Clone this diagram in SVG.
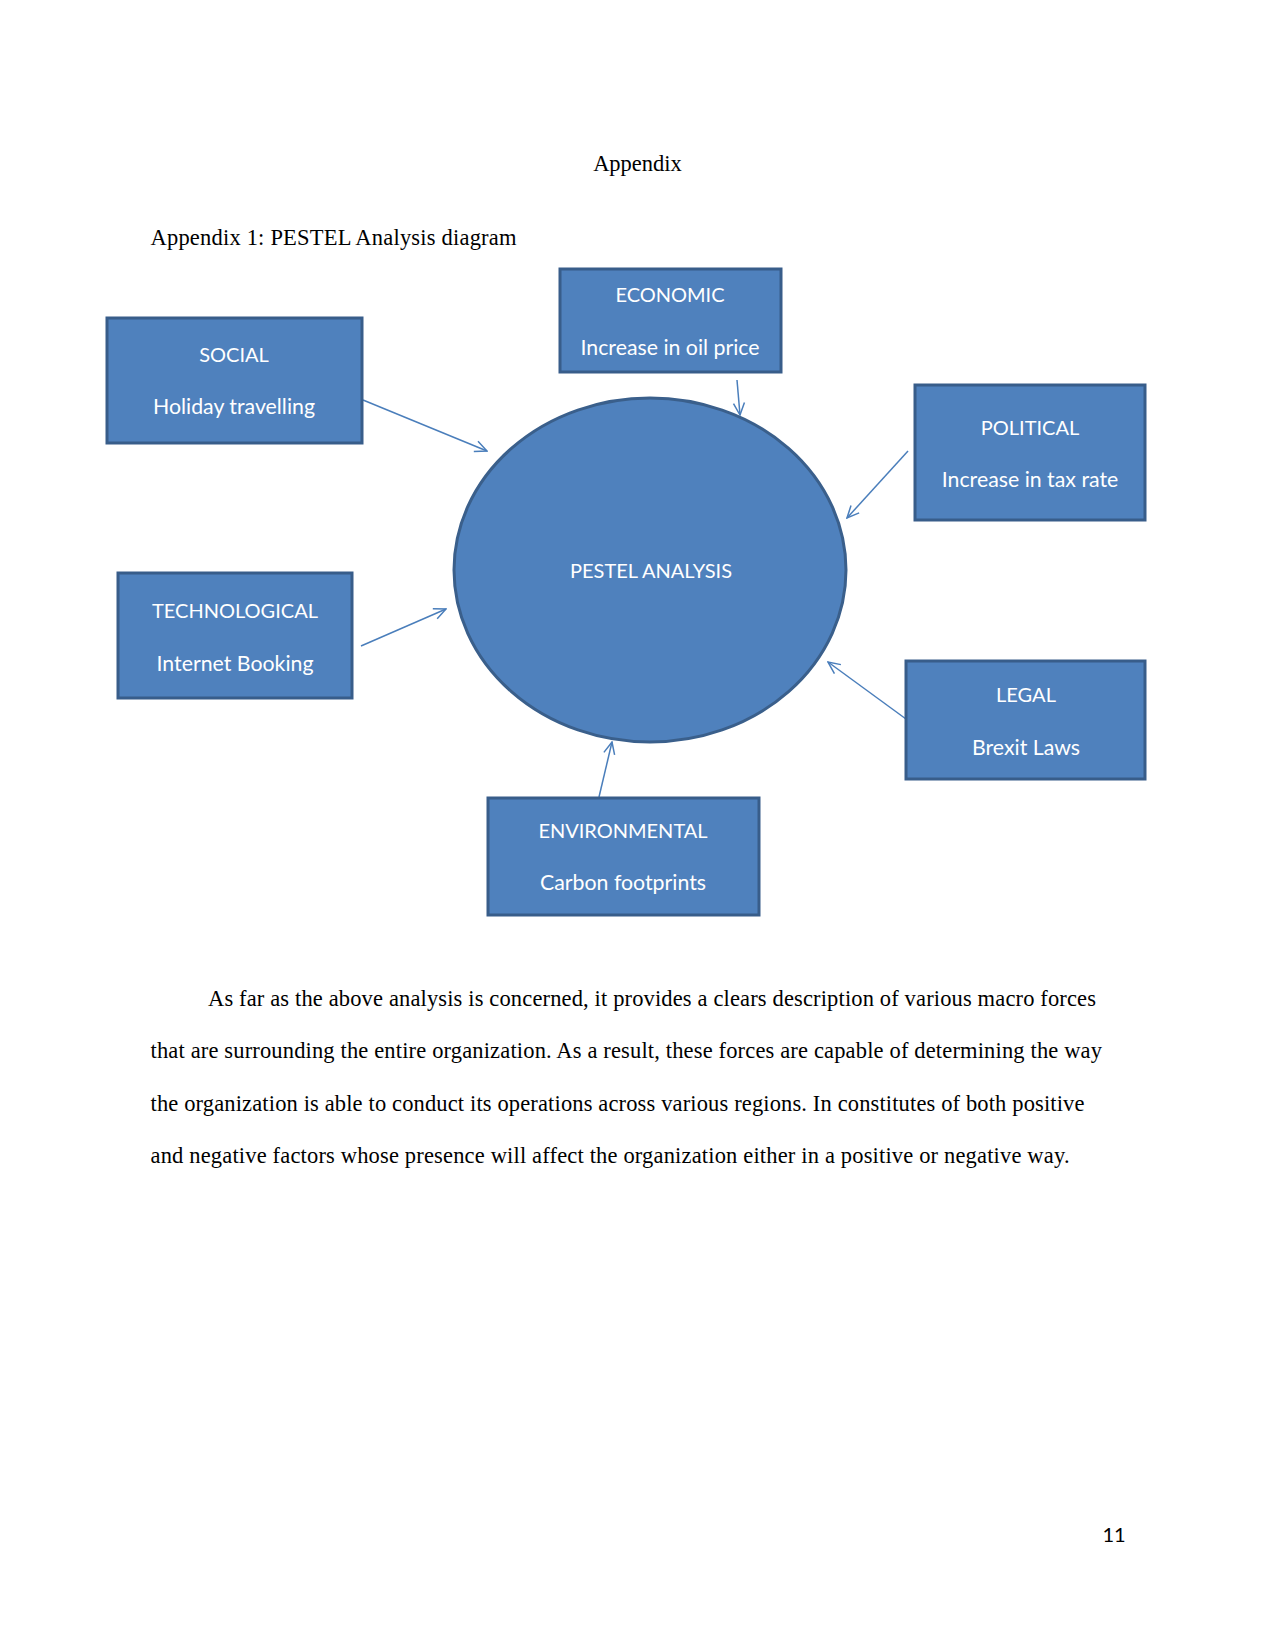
<svg xmlns="http://www.w3.org/2000/svg" width="1275" height="1651" viewBox="0 0 1275 1651">
<style>
.box{fill:#4f81bd;stroke:#385d8a;stroke-width:3}
.lbl{font-family:Lato,"Liberation Sans",sans-serif;font-size:20px;fill:#ffffff;text-anchor:middle}
.sub{font-size:21.3px}
.body{font-family:"Liberation Serif","Times New Roman",serif;font-size:22.5px;fill:#000000}
.conn{stroke:#4a7ebb;stroke-width:1.5;fill:none;marker-end:url(#arr)}
</style>
<defs>
<marker id="arr" viewBox="0 0 14 14" refX="13" refY="7" markerWidth="14" markerHeight="14" markerUnits="userSpaceOnUse" orient="auto">
<path d="M1,1.5 L13,7 L1,12.5" fill="none" stroke="#4a7ebb" stroke-width="1.5"/>
</marker>
</defs>
<rect width="1275" height="1651" fill="#ffffff"/>
<text class="body" x="637.5" y="171" text-anchor="middle">Appendix</text>
<text class="body" x="150.5" y="245" textLength="366" lengthAdjust="spacing">Appendix 1: PESTEL Analysis diagram</text>

<g id="connectors">
<line class="conn" x1="363" y1="400" x2="487" y2="451"/>
<line class="conn" x1="737" y1="380" x2="740" y2="415"/>
<line class="conn" x1="908" y1="451" x2="847" y2="518"/>
<line class="conn" x1="361" y1="646" x2="446" y2="609"/>
<line class="conn" x1="906" y1="719" x2="828" y2="662"/>
<line class="conn" x1="599" y1="797" x2="612" y2="742"/>
</g>

<g id="pestel">
<ellipse cx="650" cy="570" rx="196" ry="172" fill="#4f81bd" stroke="#3a5f8b" stroke-width="3"/>
<text class="lbl" x="651" y="578">PESTEL ANALYSIS</text>
</g>
<g id="social">
<rect class="box" x="107" y="318" width="255" height="125"/>
<text class="lbl" x="234" y="362">SOCIAL</text>
<text class="lbl sub" x="234" y="414">Holiday travelling</text>
</g>
<g id="economic">
<rect class="box" x="560" y="269" width="221" height="103"/>
<text class="lbl" x="670" y="302">ECONOMIC</text>
<text class="lbl sub" x="670" y="355">Increase in oil price</text>
</g>
<g id="political">
<rect class="box" x="915" y="385" width="230" height="135"/>
<text class="lbl" x="1030" y="435">POLITICAL</text>
<text class="lbl sub" x="1030" y="487">Increase in tax rate</text>
</g>
<g id="technological">
<rect class="box" x="118" y="573" width="234" height="125"/>
<text class="lbl" x="235" y="618">TECHNOLOGICAL</text>
<text class="lbl sub" x="235" y="671">Internet Booking</text>
</g>
<g id="legal">
<rect class="box" x="906" y="661" width="239" height="118"/>
<text class="lbl" x="1026" y="702">LEGAL</text>
<text class="lbl sub" x="1026" y="755">Brexit Laws</text>
</g>
<g id="environmental">
<rect class="box" x="488" y="798" width="271" height="117"/>
<text class="lbl" x="623" y="838">ENVIRONMENTAL</text>
<text class="lbl sub" x="623" y="890">Carbon footprints</text>
</g>

<text class="body" x="208" y="1006" textLength="888" lengthAdjust="spacing">As far as the above analysis is concerned, it provides a clears description of various macro forces</text>
<text class="body" x="150.5" y="1058" textLength="951.5" lengthAdjust="spacing">that are surrounding the entire organization. As a result, these forces are capable of determining the way</text>
<text class="body" x="150.5" y="1111" textLength="934" lengthAdjust="spacing">the organization is able to conduct its operations across various regions. In constitutes of both positive</text>
<text class="body" x="150.5" y="1163" textLength="919" lengthAdjust="spacing">and negative factors whose presence will affect the organization either in a positive or negative way.</text>

<text x="1114" y="1542" font-family="Lato,'Liberation Sans',sans-serif" font-size="20" fill="#000000" text-anchor="middle">11</text>
</svg>
